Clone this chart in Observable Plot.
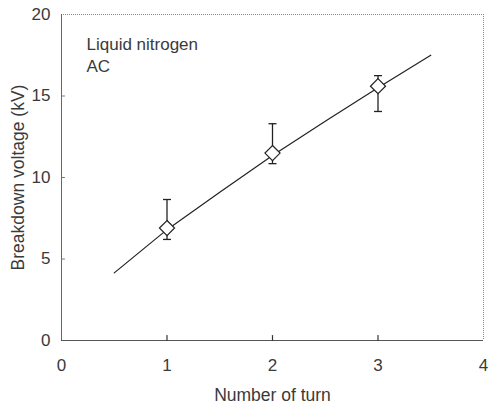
<!DOCTYPE html>
<html><head><meta charset="utf-8">
<script src="https://cdn.jsdelivr.net/npm/d3@7"></script>
<script src="https://cdn.jsdelivr.net/npm/@observablehq/plot@0.6"></script>
<style>body{margin:0;background:#fff}</style>
</head><body><div id="chart"></div>
<script>
const turns = [1, 2, 3];
const voltage = [6.9, 11.5, 15.6];
const errLow = [6.2, 10.85, 14.05];
const errHigh = [8.65, 13.3, 16.25];
const fitX = [0.5, 1.0, 1.5, 2.0, 2.5, 3.0, 3.5];
const fitY = [4.15, 6.8, 9.1, 11.35, 13.45, 15.5, 17.5];
const xTicks = [0, 1, 2, 3, 4];
const yTicks = [0, 5, 10, 15, 20];
const xInnerTicks = [1, 2, 3];
const yInnerTicks = [5, 10, 15];
const annotation = ["Liquid nitrogen", "AC"];

const points = turns.map((t, i) => ({t, v: voltage[i], lo: errLow[i], hi: errHigh[i]}));
const fit = fitX.map((x, i) => ({x, y: fitY[i]}));

// custom symbols
const len = size => Math.sqrt(size / Math.PI);
const cap = {draw(ctx, size) { const w = len(size); ctx.moveTo(-w, 0); ctx.lineTo(w, 0); }};
const stick = {draw(ctx, l) { ctx.moveTo(0, 0); ctx.lineTo(0, -l); }};

const txt = "#3a3a3a";
const chart = Plot.plot({
  width: 489, height: 405,
  marginLeft: 61, marginRight: 6, marginTop: 14, marginBottom: 65,
  style: {fontFamily: "'Liberation Sans', Arial, sans-serif", fontSize: "17px", color: txt, background: "#fff"},
  x: {type: "linear", domain: [0, 4]},
  y: {type: "linear", domain: [0, 20]},
  marks: [
    Plot.ruleY([20], {stroke: "#888", strokeWidth: 1, strokeDasharray: "1,1"}),
    Plot.ruleX([4], {stroke: "#888", strokeWidth: 1, strokeDasharray: "1,1"}),
    Plot.ruleY([0], {stroke: "#555", strokeWidth: 1}),
    Plot.ruleX([0], {stroke: "#666", strokeWidth: 1}),
    Plot.axisX(xTicks, {tickSize: 0, tickPadding: 18, fontSize: 17, label: null}),
    Plot.axisY(yTicks, {tickSize: 0, tickPadding: 11, fontSize: 17, label: null}),
    Plot.vector(xInnerTicks, {x: d => d, y: () => 0, length: 5, rotate: 0, anchor: "start", shape: stick, stroke: "#333", strokeWidth: 1.2}),
    Plot.vector(yInnerTicks, {x: () => 0, y: d => d, length: 3, rotate: 90, anchor: "start", shape: stick, stroke: "#777", strokeWidth: 1}),
    Plot.text(["Number of turn"], {frameAnchor: "bottom", dy: 60, fontSize: 17.5, fill: txt}),
    Plot.text(["Breakdown voltage (kV)"], {frameAnchor: "left", textAnchor: "middle", dx: -43, rotate: -90, fontSize: 17.5, fill: txt}),
    Plot.line(fit, {x: "x", y: "y", stroke: "#222", strokeWidth: 1.2}),
    Plot.ruleX(points, {x: "t", y1: "lo", y2: "hi", stroke: "#222", strokeWidth: 1.3}),
    Plot.dot(points, {x: "t", y: "lo", symbol: cap, r: 4, stroke: "#222", strokeWidth: 1.3}),
    Plot.dot(points, {x: "t", y: "hi", symbol: cap, r: 4, stroke: "#222", strokeWidth: 1.3}),
    Plot.dot(points, {x: "t", y: "v", symbol: "diamond2", r: 6.8, stroke: "#222", strokeWidth: 1.2, fill: "white"}),
    Plot.text([annotation.join("\n")], {frameAnchor: "top-left", dx: 25, dy: 20, lineHeight: 1.3, textAnchor: "start", fontSize: 17, fill: txt})
  ]
});
document.getElementById("chart").append(chart);
</script>
</body></html>
